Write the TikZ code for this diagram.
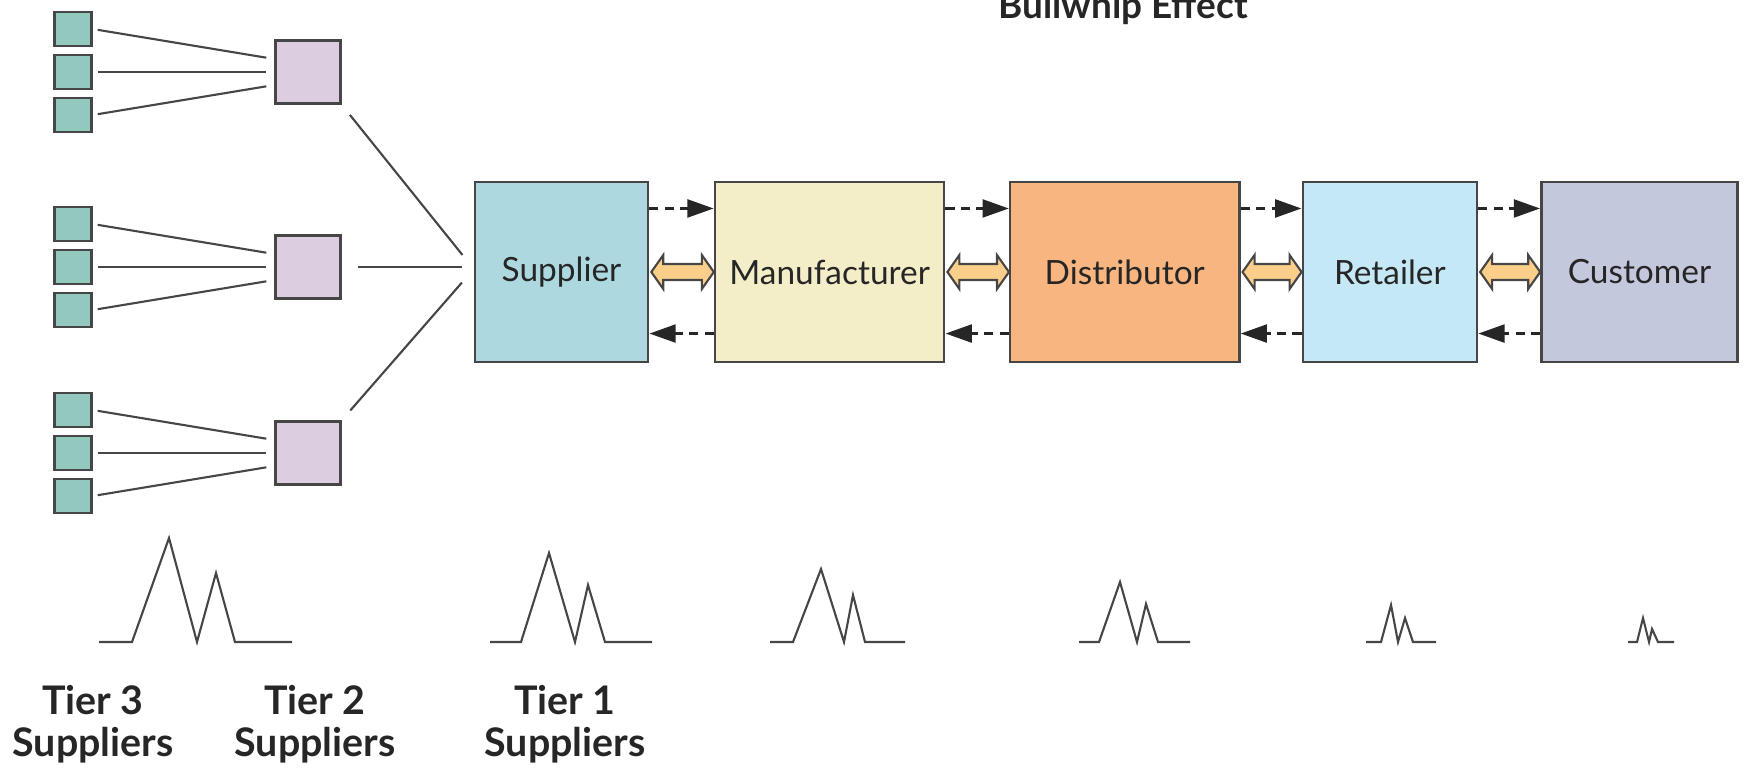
\documentclass[tikz,border=0pt]{standalone}
\usepackage{fontspec}
\setmainfont{Lato}
\usetikzlibrary{positioning,calc,arrows.meta}
\definecolor{tierthree}{RGB}{147,200,190}
\definecolor{tiertwo}{RGB}{221,205,224}
\definecolor{supblue}{RGB}{174,216,223}
\definecolor{manyellow}{RGB}{243,237,200}
\definecolor{disorange}{RGB}{248,181,127}
\definecolor{retblue}{RGB}{197,232,246}
\definecolor{cuslilac}{RGB}{195,200,220}
\definecolor{flowfill}{RGB}{251,207,138}
\definecolor{edgegray}{RGB}{70,70,70}

% two-way flow arrow between two stages
\newcommand{\twoway}[2]{%
  \draw[swap] ($(#1.east)+(2,0)$) -- ++(12,-17) -- ++(0,9) -- ($(#2.west)+(-12,-8)$) -- ++(0,-9) -- (#2.west)
    -- ++(-12,17) -- ++(0,-9) -- ($(#1.east)+(14,8)$) -- ++(0,9) -- cycle;}

\begin{document}
\begin{tikzpicture}[x=0.01cm,y=-0.01cm,
    small/.style={draw=edgegray,line width=0.7pt,fill=tierthree,minimum width=0.37cm,minimum height=0.34cm,inner sep=0pt},
    mid/.style={draw=edgegray,line width=0.7pt,fill=tiertwo,minimum width=0.65cm,minimum height=0.63cm,inner sep=0pt},
    stage/.style={draw=edgegray,line width=0.7pt,minimum height=1.8cm,inner sep=0pt,font=\fontsize{9.5}{11}\selectfont,text=black!85},
    link/.style={edgegray,line width=0.6pt},
    order/.style={black!85,line width=1pt,dash pattern=on 2.6pt off 1.8pt,-{Triangle[length=7.5pt,width=5pt]}},
    swap/.style={draw=edgegray,line width=0.6pt,fill=flowfill},
    tier/.style={align=center,font=\fontsize{11.2}{12}\selectfont\bfseries,text=black!85}]

    \useasboundingbox (0,0) rectangle (1746,769);

    \node[font=\fontsize{10.5}{12}\selectfont\bfseries,text=black!85,anchor=base] (title) at (1123,18) {Bullwhip Effect};

    % Tier 3 and Tier 2 suppliers
    \foreach \g/\yc in {1/72, 2/267, 3/453} {
        \node[mid] (t2\g) at (308,\yc) {};
        \foreach \k/\dy/\ey in {1/-43/0.13, 2/0/0, 3/43/-0.13} {
            \node[small] (t3\g\k) at (73,{\yc+\dy}) {};
            \draw[link,shorten <=0.05cm,shorten >=0.08cm] (t3\g\k.east) -- ([yshift=\ey cm]t2\g.west);
        }
    }

    % Stages
    \node[stage,fill=supblue,minimum width=1.73cm] (sup) at (561.5,272) {Supplier};
    \node[stage,fill=manyellow,minimum width=2.29cm,right=0.645cm of sup] (man) {Manufacturer};
    \node[stage,fill=disorange,minimum width=2.29cm,right=0.635cm of man] (dis) {Distributor};
    \node[stage,fill=retblue,minimum width=1.74cm,right=0.61cm of dis] (ret) {Retailer};
    \node[stage,fill=cuslilac,minimum width=1.96cm,right=0.62cm of ret] (cus) {Customer};

    % Tier 2 to supplier
    \draw[link,shorten <=0.13cm,shorten >=0.18cm] (t21.south east) -- ([yshift=0.03cm]sup.west);
    \draw[link,shorten <=0.16cm,shorten >=0.12cm] (t22.east) -- (t22.east -| sup.west);
    \draw[link,shorten <=0.13cm,shorten >=0.18cm] (t23.north east) -- ([yshift=0.03cm]sup.west);

    % Orders and flows
    \foreach \a/\b in {sup/man, man/dis, dis/ret, ret/cus} {
        \draw[order] ([yshift=0.635cm]\a.east) -- ([yshift=0.635cm]\b.west);
        \draw[order] ([yshift=-0.615cm]\b.west) -- ([yshift=-0.615cm]\a.east);
        \twoway{\a}{\b}
    }

    % Demand swings
    \draw[link] (99,642) -- (132,642) -- (169,538) -- (197,642) -- (216,573) -- (235,642) -- (292,642);
    \draw[link] (490,642) -- (521,642) -- (549,553) -- (575,642) -- (588,585) -- (605,642) -- (652,642);
    \draw[link] (770,642) -- (793,642) -- (821,569) -- (844,642) -- (853,595) -- (865,642) -- (905,642);
    \draw[link] (1079,642) -- (1099,642) -- (1120,582) -- (1137,642) -- (1146,604) -- (1158,642) -- (1190,642);
    \draw[link] (1366,642) -- (1381,642) -- (1391,605) -- (1398,642) -- (1405,618) -- (1413,642) -- (1436,642);
    \draw[link] (1628,642) -- (1637,642) -- (1643,618) -- (1649,642) -- (1652,629) -- (1658,642) -- (1674,642);

    % Tier labels
    \node[tier] (tier3) at (93,724) {Tier 3\\Suppliers};
    \node[tier] (tier2) at (315,724) {Tier 2\\Suppliers};
    \node[tier] (tier1) at (565,724) {Tier 1\\Suppliers};
\end{tikzpicture}
\end{document}
